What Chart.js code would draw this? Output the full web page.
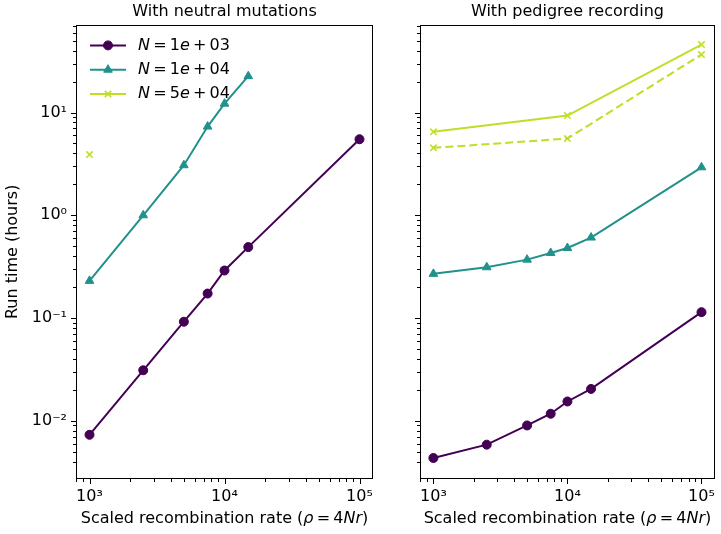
<!DOCTYPE html>
<html>
<head>
<meta charset="utf-8">
<script src="https://cdn.jsdelivr.net/npm/chart.js@4/dist/chart.umd.min.js"></script>
<style>
  html, body { margin: 0; padding: 0; background: #fff; }
  #wrap { position: relative; width: 721px; height: 534px; }
  #left { position: absolute; left: 0; top: 0; }
  #right { position: absolute; left: 400px; top: 0; }
</style>
</head>
<body>
<div id="wrap">
  <canvas id="left" width="400" height="534"></canvas>
  <canvas id="right" width="321" height="534"></canvas>
</div>
<script>
// recombination rates (x) used by the runs
const rhoValues = [1e3, 2.5e3, 5e3, 7.5e3, 1e4, 1.5e4, 1e5];
const rhoWide = [1e3, 1e4, 1e5];

// run times in hours
const neutralN1e3 = [0.0073, 0.031, 0.092, 0.173, 0.29, 0.49, 5.5];
const neutralN1e4 = [0.23, 1.0, 3.07, 7.3, 12.2, 22.6];
const neutralN5e4 = [3.9];

const pedigreeN1e3 = [0.00434, 0.00585, 0.0090, 0.0117, 0.0154, 0.0204, 0.114];
const pedigreeN1e4 = [0.269, 0.312, 0.37, 0.43, 0.48, 0.607, 2.93];
const pedigreeN5e4 = [6.5, 9.35, 45.9];
const pedigreeN5e4Dashed = [4.53, 5.58, 36.7];

const legendMantissa = ['1', '1', '5'];
const legendExponent = ['03', '04', '04'];
const panelTitles = ['With neutral mutations', 'With pedigree recording'];

const X_MIN = Math.pow(10, 2.9), X_MAX = Math.pow(10, 5.1);
const Y_MIN = Math.pow(10, -2.567), Y_MAX = Math.pow(10, 1.855);

const colors = { n1e3: '#440154', n1e4: '#21918c', n5e4: '#bddf26' };
const styles = [
  { color: colors.n1e3, pointStyle: 'circle', radius: 4.5, bw: 1 },
  { color: colors.n1e4, pointStyle: 'triangle', radius: 5, bw: 1 },
  { color: colors.n5e4, pointStyle: 'crossRot', radius: 4.5, bw: 1.6 }
];

Chart.defaults.font.family = '"DejaVu Sans", sans-serif';
Chart.defaults.color = '#000';

const FONT = 16;
const sup = { '0': '⁰', '1': '¹', '2': '²', '3': '³', '4': '⁴', '5': '⁵', '-': '⁻' };
function powLabel(v) {
  const e = Math.log10(v);
  if (Math.abs(e - Math.round(e)) > 1e-6) return '';
  return '10' + String(Math.round(e)).split('').map(c => sup[c]).join('');
}

function toPoints(xs, ys) {
  return ys.map((y, i) => ({ x: xs[i], y: y }));
}

function series(xs, ys, s, dash) {
  return {
    data: toPoints(xs, ys),
    borderColor: s.color,
    backgroundColor: s.color,
    borderWidth: 2,
    borderDash: dash || [],
    pointStyle: s.pointStyle,
    pointRadius: s.radius,
    pointBorderWidth: s.bw,
    pointBorderColor: s.color,
    pointBackgroundColor: s.color,
    tension: 0
  };
}

function drawRich(ctx, parts, x, y, align) {
  const fonts = parts.map(p => (p[1] ? 'italic ' : '') + FONT + 'px "DejaVu Sans"');
  const widths = parts.map((p, i) => { ctx.font = fonts[i]; return ctx.measureText(p[0]).width; });
  const total = widths.reduce((a, b) => a + b, 0);
  let cx = align === 'center' ? x - total / 2 : x;
  ctx.textBaseline = 'middle';
  ctx.textAlign = 'left';
  ctx.fillStyle = '#000';
  parts.forEach((p, i) => { ctx.font = fonts[i]; ctx.fillText(p[0], cx, y); cx += widths[i]; });
}

// frame, matplotlib-like tick marks (major/minor), panel title and x label
const frameAndTicks = {
  id: 'frameAndTicks',
  afterDraw(chart, args, opts) {
    const { ctx, chartArea: a } = chart;
    ctx.save();
    ctx.strokeStyle = '#000';
    ctx.lineWidth = 1;
    ['x', 'y'].forEach(id => {
      const s = chart.scales[id];
      s.ticks.forEach(t => {
        const exp = Math.floor(Math.log10(t.value) + 1e-9);
        const m = t.value / Math.pow(10, exp);
        if (Math.abs(m - Math.round(m)) > 1e-6) return;
        const len = Math.abs(m - 1) < 1e-6 ? 5 : 3;
        const p = Math.round(s.getPixelForValue(t.value)) + 0.5;
        ctx.beginPath();
        if (id === 'x') { ctx.moveTo(p, a.bottom); ctx.lineTo(p, a.bottom + len); }
        else { ctx.moveTo(a.left, p); ctx.lineTo(a.left - len, p); }
        ctx.stroke();
      });
    });
    ctx.strokeRect(Math.round(a.left) + 0.5, Math.round(a.top) + 0.5,
      Math.round(a.width) - 1, Math.round(a.height) - 1);
    const cx = (a.left + a.right) / 2;
    drawRich(ctx, [[opts.title, false]], cx, 12, 'center');
    drawRich(ctx, [['Scaled recombination rate (', false], ['ρ', true], ['\u2009=\u20094', false], ['Nr', true], [')', false]],
      cx, 519, 'center');
    ctx.restore();
  }
};

const legendInside = {
  id: 'legendInside',
  afterDraw(chart) {
    const { ctx, chartArea: a } = chart;
    ctx.save();
    styles.forEach((s, i) => {
      const y = a.top + 20.7 + i * 24.3;
      ctx.strokeStyle = s.color;
      ctx.fillStyle = s.color;
      ctx.lineWidth = 2;
      ctx.beginPath();
      ctx.moveTo(a.left + 14, y);
      ctx.lineTo(a.left + 50, y);
      ctx.stroke();
      ctx.lineWidth = s.bw;
      Chart.helpers.drawPoint(ctx, { pointStyle: s.pointStyle, radius: s.radius, rotation: 0, borderWidth: s.bw }, a.left + 32, y);
      drawRich(ctx, [['N', true], ['\u2009=\u2009' + legendMantissa[i], false], ['e', true], ['\u2009+\u2009' + legendExponent[i], false]],
        a.left + 62, y, 'left');
    });
    ctx.restore();
  }
};

function makeOptions(title, showY, yWidth, rightPad) {
  return {
    responsive: false,
    animation: false,
    events: [],
    layout: { padding: { left: 0, right: rightPad, top: 24.7, bottom: 0 } },
    plugins: {
      legend: { display: false },
      tooltip: { enabled: false },
      title: { display: false },
      frameAndTicks: { title: title }
    },
    scales: {
      x: {
        type: 'logarithmic',
        min: X_MIN,
        max: X_MAX,
        grid: { display: false, drawTicks: true, tickLength: 5 },
        border: { display: false },
        ticks: { autoSkip: false, maxRotation: 0, padding: 3, font: { size: FONT }, callback: v => powLabel(v) },
        afterFit: s => { s.height = 55; }
      },
      y: {
        type: 'logarithmic',
        min: Y_MIN,
        max: Y_MAX,
        grid: { display: false, drawTicks: true, tickLength: 5 },
        border: { display: false },
        title: { display: showY, text: 'Run time (hours)', font: { size: FONT }, padding: { top: 3, bottom: 0 } },
        ticks: { autoSkip: false, padding: 4, font: { size: FONT }, callback: v => showY ? powLabel(v) : '' },
        afterFit: s => { s.width = yWidth; }
      }
    }
  };
}

new Chart(document.getElementById('left'), {
  type: 'line',
  data: {
    datasets: [
      series(rhoValues, neutralN1e3, styles[0]),
      series(rhoValues, neutralN1e4, styles[1]),
      series(rhoValues, neutralN5e4, styles[2])
    ]
  },
  options: makeOptions(panelTitles[0], true, 76, 27),
  plugins: [frameAndTicks, legendInside]
});

new Chart(document.getElementById('right'), {
  type: 'line',
  data: {
    datasets: [
      series(rhoValues, pedigreeN1e3, styles[0]),
      series(rhoValues, pedigreeN1e4, styles[1]),
      series(rhoWide, pedigreeN5e4, styles[2]),
      series(rhoWide, pedigreeN5e4Dashed, styles[2], [8, 4])
    ]
  },
  options: makeOptions(panelTitles[1], false, 20, 5),
  plugins: [frameAndTicks]
});
</script>
</body>
</html>
